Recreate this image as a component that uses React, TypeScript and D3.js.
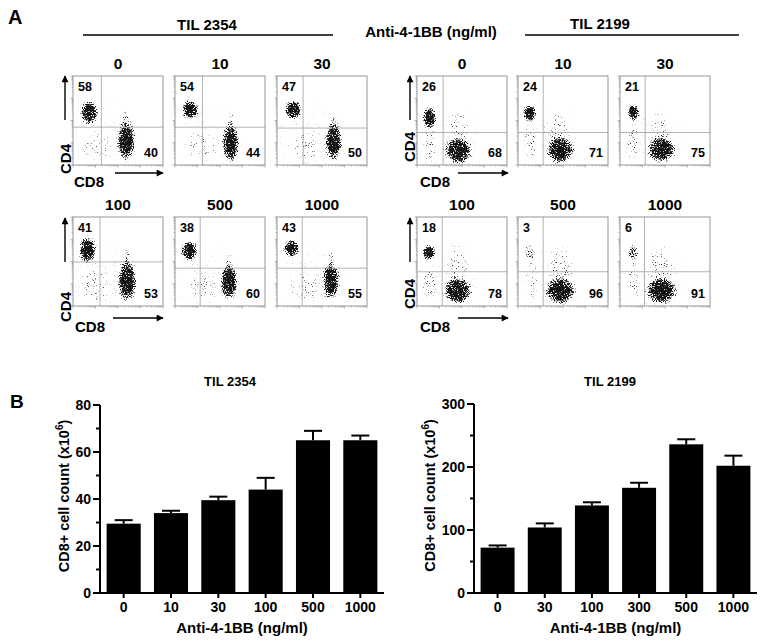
import React from "react";
import * as d3 from "d3";

const FONT = "'Liberation Sans', Arial, Helvetica, sans-serif";

// ---------- Panel A : flow cytometry ----------
const flowDoses = ["0", "10", "30", "100", "500", "1000"];
const cd4Pct2354 = [58, 54, 47, 41, 38, 43];
const cd8Pct2354 = [40, 44, 50, 53, 60, 55];
const cd4Pct2199 = [26, 24, 21, 18, 3, 6];
const cd8Pct2199 = [68, 71, 75, 78, 96, 91];

// quadrant gates (channel units 0-1000): CD8 gate, CD4 gate
const gateCD8_2354 = [315, 305, 290, 300, 280, 280];
const gateCD4_2354 = [425, 425, 415, 495, 425, 425];
const gateCD8_2199 = [290, 280, 280, 280, 280, 272];
const gateCD4_2199 = [365, 365, 365, 385, 385, 385];

// populations: [panel, CD8 centre, CD4 centre, CD8 spread, CD4 spread, density]
const pops2354: number[][] = [
  [0, 180, 590, 85, 115, 1], [0, 590, 270, 88, 200, 1], [0, 590, 520, 35, 80, 0.32], [0, 260, 200, 130, 150, 0.16], [0, 350, 300, 330, 330, 0.06],
  [1, 170, 620, 80, 95, 1], [1, 620, 250, 82, 195, 1], [1, 620, 500, 35, 80, 0.28], [1, 300, 200, 140, 150, 0.15], [1, 350, 300, 330, 330, 0.06],
  [2, 180, 620, 80, 95, 1], [2, 630, 270, 82, 195, 1], [2, 630, 520, 30, 70, 0.28], [2, 300, 200, 140, 150, 0.15], [2, 350, 300, 330, 330, 0.06],
  [3, 160, 630, 85, 130, 1], [3, 600, 280, 92, 205, 1], [3, 600, 550, 35, 100, 0.32], [3, 250, 250, 140, 180, 0.18], [3, 350, 300, 330, 330, 0.06],
  [4, 160, 620, 80, 95, 1], [4, 600, 270, 82, 185, 1], [4, 600, 500, 30, 80, 0.28], [4, 300, 220, 150, 150, 0.16], [4, 350, 300, 330, 330, 0.06],
  [5, 160, 650, 80, 85, 1], [5, 600, 280, 82, 185, 1], [5, 600, 520, 30, 80, 0.28], [5, 300, 220, 150, 150, 0.16], [5, 350, 300, 330, 330, 0.06],
];
const pops2199: number[][] = [
  [0, 140, 530, 65, 110, 1], [0, 460, 160, 135, 130, 1], [0, 450, 350, 110, 230, 0.2], [0, 140, 200, 60, 180, 0.28], [0, 350, 300, 330, 330, 0.05],
  [1, 130, 580, 65, 85, 1], [1, 470, 170, 135, 130, 1], [1, 450, 350, 110, 230, 0.2], [1, 140, 250, 60, 180, 0.25], [1, 350, 300, 330, 330, 0.05],
  [2, 150, 590, 60, 80, 1], [2, 460, 175, 135, 130, 1], [2, 450, 350, 110, 230, 0.18], [2, 140, 250, 60, 180, 0.25], [2, 350, 300, 330, 330, 0.05],
  [3, 130, 600, 65, 75, 1], [3, 450, 170, 140, 130, 1], [3, 450, 400, 120, 280, 0.2], [3, 140, 250, 70, 150, 0.28], [3, 350, 300, 330, 330, 0.05],
  [4, 130, 600, 55, 75, 0.45], [4, 470, 170, 150, 130, 1], [4, 470, 380, 130, 260, 0.22], [4, 150, 300, 60, 220, 0.2], [4, 350, 300, 330, 330, 0.05],
  [5, 140, 600, 55, 75, 0.62], [5, 460, 170, 150, 130, 1], [5, 460, 380, 130, 260, 0.22], [5, 150, 300, 60, 220, 0.2], [5, 350, 300, 330, 330, 0.05],
];

// ---------- Panel B : bar charts ----------
const barDoses2354 = ["0", "10", "30", "100", "500", "1000"];
const barMeans2354 = [29.5, 34, 39.5, 44, 65, 65];
const barErr2354 = [1.5, 1, 1.5, 5, 4, 2];
const yTicks2354 = [0, 20, 40, 60, 80];

const barDoses2199 = ["0", "30", "100", "300", "500", "1000"];
const barMeans2199 = [72, 104, 139, 167, 236, 202];
const barErr2199 = [3.5, 6.5, 5, 8, 8, 16];
const yTicks2199 = [0, 100, 200, 300];

const PW = 90;
const PH = 89;

function FlowPanel(props: {
  id: string; left: number; top: number; gx: number; gy: number;
  pops: number[][]; title: string; ul: number; lr: number;
}) {
  const { id, left, top, gx, gy, pops, title, ul, lr } = props;
  const x = d3.scaleLinear().domain([0, 1000]).range([left, left + PW]);
  const y = d3.scaleLinear().domain([0, 1000]).range([top + PH, top]);
  const lx = d3.scaleLog().domain([1, 10000]).range([left, left + PW]);
  const ly = d3.scaleLog().domain([1, 10000]).range([top + PH, top]);
  const ticks = lx.ticks();
  return (
    <g>
      <clipPath id={"c" + id}>
        <rect x={left} y={top} width={PW} height={PH} />
      </clipPath>
      <rect x={left} y={top} width={PW} height={PH} fill="#fff" />
      <g clipPath={`url(#c${id})`}>
        <g filter="url(#spk)">
          {pops.map((p, j) => (
            <ellipse key={j} cx={x(p[1])} cy={y(p[2])}
              rx={x(p[3] * 1.3) - x(0)} ry={y(0) - y(p[4] * 1.3)}
              fill="url(#blob)" opacity={p[5]} />
          ))}
        </g>
      </g>
      <line x1={x(gx)} x2={x(gx)} y1={top} y2={top + PH} stroke="#a0a0a0" strokeWidth={0.8} />
      <line x1={left} x2={left + PW} y1={y(gy)} y2={y(gy)} stroke="#a0a0a0" strokeWidth={0.8} />
      <rect x={left} y={top} width={PW} height={PH} fill="none" stroke="#8c8c8c" strokeWidth={0.9} />
      {ticks.map((t, j) => {
        const major = Math.log10(t) % 1 === 0;
        const len = major ? 2.5 : 1.4;
        return (
          <g key={j} stroke="#888" strokeWidth={0.6}>
            <line x1={lx(t)} x2={lx(t)} y1={top + PH} y2={top + PH + len} />
            <line x1={left} x2={left - len} y1={ly(t)} y2={ly(t)} />
          </g>
        );
      })}
      <text x={left + PW / 2} y={top - 7} textAnchor="middle" fontSize={15.5} fontWeight="bold">{title}</text>
      <text x={left + 5} y={top + 15} fontSize={12.5} fontWeight="bold">{ul}</text>
      <text x={left + PW - 5} y={top + PH - 8} textAnchor="end" fontSize={12.5} fontWeight="bold">{lr}</text>
    </g>
  );
}

function AxisLabels(props: { ax: number; rowTop: number; cd4x: number; cd4y: number; cd8x: number; cd8y: number; arrowY: number; arrowX0: number; arrowX1: number }) {
  const { ax, rowTop, cd4x, cd4y, cd8x, cd8y, arrowY, arrowX0, arrowX1 } = props;
  return (
    <g>
      <line x1={ax} x2={ax} y1={rowTop + 44} y2={rowTop} stroke="#000" strokeWidth={1.4} markerEnd="url(#arr)" />
      <text transform={`translate(${cd4x},${cd4y}) rotate(-90)`} textAnchor="middle" fontSize={15} fontWeight="bold">CD4</text>
      <text x={cd8x} y={cd8y} fontSize={15} fontWeight="bold">CD8</text>
      <line x1={arrowX0} x2={arrowX1} y1={arrowY} y2={arrowY} stroke="#000" strokeWidth={1.4} markerEnd="url(#arr)" />
    </g>
  );
}

function BarChart(props: {
  x0: number; x1: number; yb: number; yt: number; doses: string[]; means: number[]; errs: number[];
  ticks: number[]; max: number; title: string; titleX: number; ylabX: number;
}) {
  const { x0, x1, yb, yt, doses, means, errs, ticks, max, title, titleX, ylabX } = props;
  const x = d3.scaleBand().domain(doses).range([x0, x1]).paddingInner(0.28).paddingOuter(0.14);
  const y = d3.scaleLinear().domain([0, max]).range([yb, yt]);
  const step = ticks[1] - ticks[0];
  const minor = ticks.slice(0, -1).map((t) => t + step / 2);
  const midY = (yb + yt) / 2;
  return (
    <g fontWeight="bold">
      <text x={titleX} y={386} textAnchor="middle" fontSize={13}>{title}</text>
      {doses.map((d, i) => {
        const cx = (x(d) as number) + x.bandwidth() / 2;
        const top = y(means[i] + errs[i]);
        return (
          <g key={d}>
            <rect x={x(d)} y={y(means[i])} width={x.bandwidth()} height={y(0) - y(means[i])} fill="#000" />
            <line x1={cx} x2={cx} y1={y(means[i])} y2={top} stroke="#000" strokeWidth={2} />
            <line x1={cx - 9} x2={cx + 9} y1={top} y2={top} stroke="#000" strokeWidth={2} />
            <line x1={cx} x2={cx} y1={yb} y2={yb + 5} stroke="#000" strokeWidth={2} />
            <text x={cx} y={612} textAnchor="middle" fontSize={14}>{d}</text>
          </g>
        );
      })}
      <line x1={x0} x2={x0} y1={yt} y2={yb + 1} stroke="#000" strokeWidth={2} />
      <line x1={x0 - 1} x2={x1} y1={yb} y2={yb} stroke="#000" strokeWidth={2} />
      {ticks.map((t) => (
        <g key={t}>
          <line x1={x0 - 7} x2={x0} y1={y(t)} y2={y(t)} stroke="#000" strokeWidth={2} />
          <text x={x0 - 9} y={y(t) + 5} textAnchor="end" fontSize={14}>{t}</text>
        </g>
      ))}
      {minor.map((t) => (
        <line key={t} x1={x0 - 4} x2={x0} y1={y(t)} y2={y(t)} stroke="#000" strokeWidth={2} />
      ))}
      <text x={(x0 + x1) / 2} y={633} textAnchor="middle" fontSize={15}>Anti-4-1BB (ng/ml)</text>
      <text transform={`translate(${ylabX},${midY - 3}) rotate(-90)`} textAnchor="middle" fontSize={14.5}>
        CD8+ cell count (x10<tspan dy={-6} fontSize={10}>6</tspan><tspan dy={6}>)</tspan>
      </text>
    </g>
  );
}

const colLeft2354 = [73, 175, 277];
const colLeft2199 = [417, 518, 620];
const rowTop = [76, 217];

export default function App() {
  return (
    <svg width={761} height={642} viewBox="0 0 761 642"
      style={{ position: "absolute", left: 0, top: 0, display: "block", background: "#fff" }}
      fontFamily={FONT}>
      <defs>
        <radialGradient id="blob">
          <stop offset="0" stopColor="#000" stopOpacity={1} />
          <stop offset="0.45" stopColor="#000" stopOpacity={0.95} />
          <stop offset="0.7" stopColor="#000" stopOpacity={0.6} />
          <stop offset="0.88" stopColor="#000" stopOpacity={0.2} />
          <stop offset="1" stopColor="#000" stopOpacity={0} />
        </radialGradient>
        <filter id="spk" filterUnits="userSpaceOnUse" x={0} y={0} width={761} height={642} colorInterpolationFilters="sRGB">
          <feTurbulence type="fractalNoise" baseFrequency="0.9" numOctaves={2} seed={7} result="t" />
          <feColorMatrix in="t" type="matrix" values="0 0 0 0 0  0 0 0 0 0  0 0 0 0 0  2 0 0 0 -0.5" result="n" />
          <feComposite in="SourceGraphic" in2="n" operator="arithmetic" k1={0} k2={3.6} k3={-3.6} k4={0} result="d" />
          <feColorMatrix in="d" type="matrix" values="1 0 0 0 0.08  0 1 0 0 0.08  0 0 1 0 0.08  0 0 0 1 0" />
        </filter>
        <marker id="arr" viewBox="0 0 10 10" refX="9" refY="5" markerWidth="8" markerHeight="7"
          markerUnits="userSpaceOnUse" orient="auto">
          <path d="M0,0 L10,5 L0,10 z" fill="#000" />
        </marker>
      </defs>

      {/* Panel A header */}
      <text x={8} y={24} fontSize={20} fontWeight="bold">A</text>
      <text x={207} y={30} textAnchor="middle" fontSize={15} fontWeight="bold">TIL 2354</text>
      <line x1={83} x2={333} y1={35} y2={35} stroke="#000" strokeWidth={1.5} />
      <text x={431} y={37} textAnchor="middle" fontSize={15} fontWeight="bold">Anti-4-1BB (ng/ml)</text>
      <text x={600} y={29} textAnchor="middle" fontSize={15} fontWeight="bold">TIL 2199</text>
      <line x1={525} x2={739} y1={35} y2={35} stroke="#000" strokeWidth={1.5} />

      {flowDoses.map((d, i) => (
        <FlowPanel key={"a" + i} id={"a" + i} left={colLeft2354[i % 3]} top={rowTop[Math.floor(i / 3)]}
          gx={gateCD8_2354[i]} gy={gateCD4_2354[i]} pops={pops2354.filter((p) => p[0] === i)}
          title={d} ul={cd4Pct2354[i]} lr={cd8Pct2354[i]} />
      ))}
      {flowDoses.map((d, i) => (
        <FlowPanel key={"b" + i} id={"b" + i} left={colLeft2199[i % 3]} top={rowTop[Math.floor(i / 3)]}
          gx={gateCD8_2199[i]} gy={gateCD4_2199[i]} pops={pops2199.filter((p) => p[0] === i)}
          title={d} ul={cd4Pct2199[i]} lr={cd8Pct2199[i]} />
      ))}

      <AxisLabels ax={65} rowTop={76} cd4x={71} cd4y={159} cd8x={74} cd8y={187} arrowY={173} arrowX0={115} arrowX1={163} />
      <AxisLabels ax={65} rowTop={218} cd4x={71} cd4y={307} cd8x={75} cd8y={332} arrowY={318} arrowX0={113} arrowX1={163} />
      <AxisLabels ax={410} rowTop={76} cd4x={415} cd4y={147} cd8x={420} cd8y={187} arrowY={173} arrowX0={458} arrowX1={508} />
      <AxisLabels ax={410} rowTop={218} cd4x={415} cd4y={294} cd8x={420} cd8y={332} arrowY={318} arrowX0={458} arrowX1={508} />

      {/* Panel B */}
      <text x={10} y={408} fontSize={19} fontWeight="bold">B</text>
      <BarChart x0={100} x1={384} yb={593} yt={405} doses={barDoses2354} means={barMeans2354} errs={barErr2354}
        ticks={yTicks2354} max={80} title="TIL 2354" titleX={230} ylabX={69} />
      <BarChart x0={474} x1={757} yb={593} yt={404} doses={barDoses2199} means={barMeans2199} errs={barErr2199}
        ticks={yTicks2199} max={300} title="TIL 2199" titleX={610} ylabX={435} />
    </svg>
  );
}
